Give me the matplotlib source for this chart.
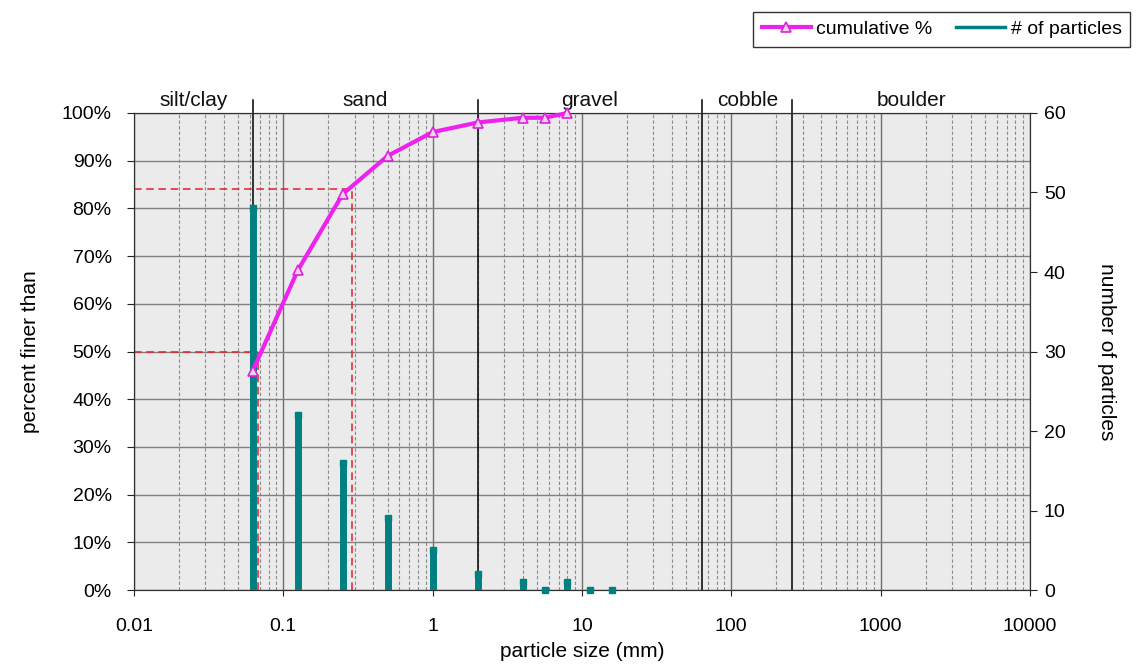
import numpy as np
import matplotlib.pyplot as plt
from matplotlib.ticker import FixedLocator, LogLocator, NullFormatter

plt.rcParams['font.family'] = ['Liberation Sans', 'DejaVu Sans']

# cumulative percent finer
size_cum = [0.0625, 0.125, 0.25, 0.5, 1, 2, 4, 5.66, 8]
pct_finer = [46, 67, 83, 91, 96, 98, 99, 99, 100]

# particle counts per size class
size_cnt = [0.0625, 0.125, 0.25, 0.5, 1, 2, 4, 5.66, 8, 11.3, 16]
counts = [48, 22, 16, 9, 5, 2, 1, 0, 1, 0, 0]

# class boundaries and names
bounds = [0.0625, 2, 64, 256]
classes = ['silt/clay', 'sand', 'gravel', 'cobble', 'boulder']
class_edges = [0.01, 0.0625, 2, 64, 256, 10000]

d50, d84 = 0.0677, 0.288

fig = plt.figure(figsize=(11.44, 6.67), dpi=100)
ax = fig.add_axes([0.1171, 0.1154, 0.7832, 0.7152])
ax.set_facecolor('#ebebeb')
ax.set_xscale('log')
ax.set_xlim(0.01, 10000)
ax.set_ylim(0, 100)

ax.xaxis.set_major_locator(FixedLocator([10.0 ** k for k in range(-2, 5)]))
ax.set_xticklabels(['0.01', '0.1', '1', '10', '100', '1000', '10000'])
ax.xaxis.set_minor_locator(LogLocator(base=10, subs=np.arange(2, 10), numticks=50))
ax.xaxis.set_minor_formatter(NullFormatter())
ax.set_yticks(np.arange(0, 101, 10))
ax.set_yticklabels([f'{v}%' for v in range(0, 101, 10)])

ax.grid(which='major', axis='y', color='#808080', lw=1)
ax.grid(which='major', axis='x', color='#707070', lw=1)
ax.grid(which='minor', axis='x', color='#8a8a8a', lw=0.8, ls=(0, (3, 2)))
ax.set_axisbelow(True)
ax.tick_params(which='minor', length=0)
ax.tick_params(axis='x', which='major', labelsize=14, length=4, pad=16, color='#222222')
ax.tick_params(axis='y', which='major', labelsize=14, length=5, pad=11, color='#222222')
for s in ax.spines.values():
    s.set_color('#303030')

# class boundaries
for b in bounds:
    ax.axvline(b, ymin=0, ymax=1.028, color='black', lw=1.1, clip_on=False, zorder=2)
for name, lo, hi in zip(classes, class_edges[:-1], class_edges[1:]):
    ax.text(np.sqrt(lo * hi), 100.6, name, ha='center', va='bottom', fontsize=15, color='#111111')

# D50 / D84 markers
ax.plot([0.01, d50], [50, 50], color='#e0202a', lw=1.1, ls=(0, (5, 3)), zorder=3)
ax.plot([d50, d50], [0, 50], color='#e0202a', lw=1.1, ls=(0, (5, 3)), zorder=3)
ax.plot([0.01, d84], [84, 84], color='#e0202a', lw=1.1, ls=(0, (5, 3)), zorder=3)
ax.plot([d84, d84], [0, 84], color='#e0202a', lw=1.1, ls=(0, (5, 3)), zorder=3)

ax2 = ax.twinx()
ax2.set_ylim(0, 60)
ax2.set_yticks(np.arange(0, 61, 10))
ax2.tick_params(labelsize=14, length=5, pad=5, color='#222222')
for s in ax2.spines.values():
    s.set_color('#303030')
ax2.vlines(size_cnt, 0, counts, color='#008080', lw=5, zorder=3)
ax2.plot(size_cnt, counts, 's', color='#008080', ms=5, clip_on=False, zorder=3)

# cumulative curve drawn on top
ax3 = ax.twinx()
ax3.set_ylim(0, 100)
ax3.axis('off')
ax3.plot(size_cum, pct_finer, color='#ee22ee', lw=3, marker='^', ms=7,
         mfc='#f0d0f0', mec='#dd22dd', mew=1.2, label='cumulative %', clip_on=False)
ax3.plot([], [], color='#008080', lw=2.5, label='# of particles')
leg = ax3.legend(loc='upper right', bbox_to_anchor=(0.9965, 0.997), bbox_transform=fig.transFigure,
                 ncol=2, fontsize=14, frameon=True, fancybox=False, edgecolor='black',
                 handlelength=2.5, handletextpad=0.3, columnspacing=1.2, borderpad=0.45)
leg.get_frame().set_linewidth(1)

ax.set_xlabel('particle size (mm)', fontsize=15, labelpad=5)
ax.set_ylabel('percent finer than', fontsize=15, labelpad=16)
ax2.set_ylabel('number of particles', fontsize=15, rotation=-90, labelpad=36)

fig.savefig('out.png', dpi=100)
